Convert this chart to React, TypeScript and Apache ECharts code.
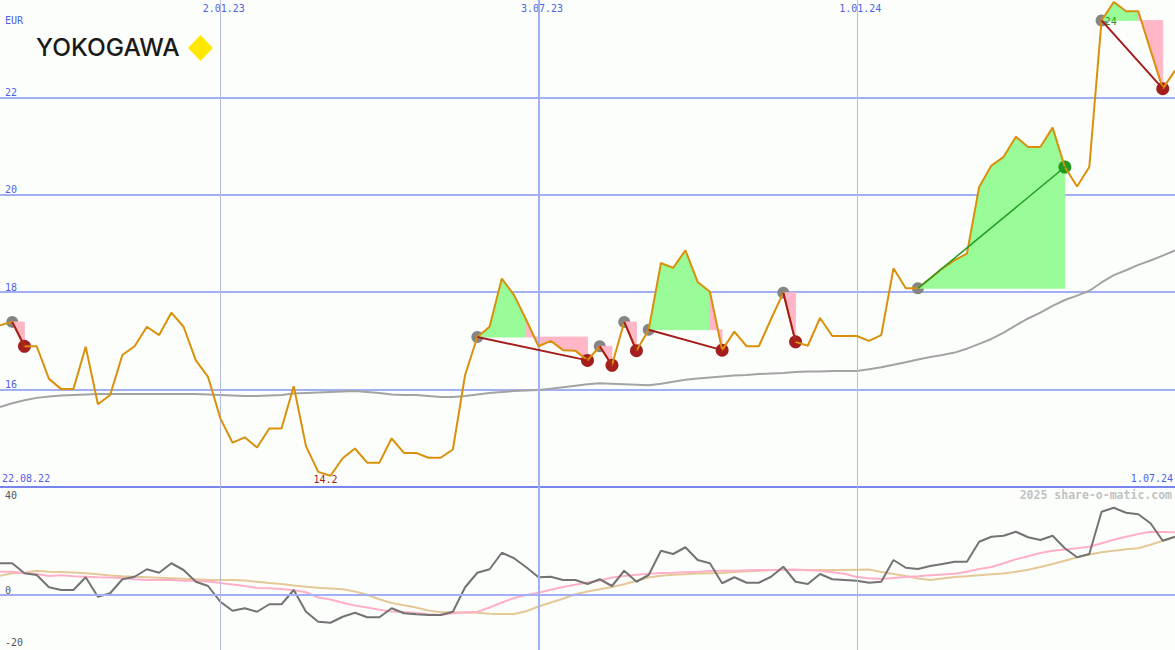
import React, { useEffect, useRef } from 'react';
import * as echarts from 'echarts';

// ---------- categories (weekly closes) ----------
const firstWeek = Date.UTC(2022, 7, 29);
const categories: string[] = [];
for (let i = 0; i < 97; i++) {
  const d = new Date(firstWeek + i * 7 * 86400000);
  categories.push(
    `${d.getUTCDate()}.${String(d.getUTCMonth() + 1).padStart(2, '0')}.${String(d.getUTCFullYear() % 100).padStart(2, '0')}`
  );
}

const gridDates = ['2.01.23', '3.07.23', '1.01.24'];
const midYearDates = ['3.07.23'];
const rangeLabels = ['22.08.22', '1.07.24'];
const priceTickLabels = [16, 18, 20, 22];
const lowerTickLabels = [40, 0, -20];

// ---------- price (EUR) ----------
const price = [
  17.32, 17.39, 16.89, 16.89, 16.22, 16.01, 16.01, 16.88, 15.70, 15.89,
  16.71, 16.89, 17.29, 17.12, 17.58, 17.29, 16.60, 16.26, 15.41, 14.91,
  15.02, 14.81, 15.20, 15.20, 16.07, 14.84, 14.31, 14.23, 14.59, 14.79,
  14.50, 14.50, 15.00, 14.70, 14.70, 14.60, 14.60, 14.77, 16.30, 17.08,
  17.29, 18.28, 17.94, 17.43, 16.89, 17.00, 16.81, 16.80, 16.60, 16.89,
  16.50, 17.39, 16.80, 17.23, 18.60, 18.50, 18.86, 18.21, 18.01, 16.81,
  17.19, 16.89, 16.89, 17.45, 17.99, 16.98, 16.90, 17.47, 17.10, 17.10,
  17.10, 17.00, 17.12, 18.49, 18.08, 18.08, 18.28, 18.49, 18.66, 18.79,
  20.16, 20.60, 20.78, 21.19, 20.98, 20.98, 21.38, 20.57, 20.17, 20.57,
  23.58, 23.96, 23.77, 23.77, 22.97, 22.18, 22.55,
];

// long moving average
const movingAvg = [
  15.64, 15.72, 15.78, 15.83, 15.86, 15.88, 15.89, 15.90, 15.91, 15.91,
  15.91, 15.91, 15.91, 15.91, 15.91, 15.91, 15.91, 15.90, 15.89, 15.88,
  15.87, 15.87, 15.88, 15.89, 15.92, 15.93, 15.94, 15.95, 15.96, 15.97,
  15.95, 15.93, 15.90, 15.89, 15.89, 15.87, 15.85, 15.85, 15.87, 15.90,
  15.93, 15.95, 15.97, 15.98, 15.99, 16.02, 16.05, 16.08, 16.11, 16.13,
  16.12, 16.11, 16.10, 16.09, 16.12, 16.16, 16.20, 16.23, 16.25, 16.27,
  16.29, 16.30, 16.32, 16.33, 16.34, 16.36, 16.37, 16.37, 16.38, 16.38,
  16.38, 16.42, 16.46, 16.51, 16.56, 16.62, 16.67, 16.71, 16.76, 16.84,
  16.94, 17.04, 17.17, 17.32, 17.46, 17.58, 17.72, 17.84, 17.93, 18.03,
  18.20, 18.35, 18.45, 18.56, 18.65, 18.75, 18.86,
];

// trade signals (week indices)
const tradeEntries = [1, 39, 49, 51, 53, 64, 75, 90];
const tradeExits = [2, 48, 50, 52, 59, 65, 87, 95];

// ---------- lower indicator panel ----------
const oscillator = [
  12.7, 12.7, 8.7, 8.0, 3.1, 2.0, 2.0, 7.1, -0.7, 0.7,
  6.3, 7.3, 10.3, 8.9, 12.7, 10.0, 5.3, 3.6, -2.7, -6.3,
  -5.3, -6.7, -3.7, -3.7, 2.0, -6.7, -10.7, -11.1, -8.7, -7.1,
  -8.9, -8.9, -5.3, -7.3, -7.7, -8.0, -8.0, -6.7, 3.1, 8.9,
  10.3, 16.9, 14.7, 11.1, 7.1, 7.3, 6.0, 6.0, 4.4, 6.3,
  3.6, 9.7, 5.3, 8.0, 17.7, 16.4, 19.1, 14.0, 12.7, 4.7,
  7.1, 4.9, 4.9, 7.3, 11.3, 5.3, 4.4, 8.4, 6.3, 6.0,
  5.7, 4.9, 5.3, 14.0, 10.9, 10.4, 11.6, 12.4, 13.3, 13.3,
  21.3, 23.3, 23.7, 25.3, 23.1, 22.0, 23.7, 18.7, 15.1, 16.4,
  33.3, 34.9, 32.9, 32.3, 28.7, 21.7, 23.3,
];

const pinkSignal = [
  9.3, 9.3, 8.7, 8.4, 7.6, 7.9, 7.5, 7.3, 7.1, 7.0,
  6.8, 6.3, 6.0, 6.0, 6.0, 5.7, 5.7, 5.4, 4.8, 4.2,
  3.6, 2.8, 2.7, 2.4, 1.9, 1.1, -1.0, -1.8, -3.1, -4.2,
  -5.0, -5.9, -6.6, -6.8, -7.2, -7.7, -8.0, -7.3, -7.0, -6.7,
  -5.0, -3.0, -1.2, 0.0, 0.9, 2.1, 3.2, 4.1, 5.0, 5.8,
  7.0, 7.6, 8.1, 8.5, 8.8, 8.9, 9.1, 9.3, 9.6, 9.7,
  9.7, 9.9, 10.0, 10.0, 10.1, 10.2, 9.9, 9.7, 9.1, 8.5,
  7.2, 6.7, 6.4, 6.8, 7.2, 7.5, 7.9, 8.2, 8.5, 9.3,
  10.4, 11.2, 12.7, 14.3, 15.5, 16.8, 17.7, 18.2, 18.7, 19.3,
  20.7, 22.1, 23.3, 24.4, 25.3, 25.2, 25.1,
];

const tanSignal = [
  7.7, 8.7, 8.9, 9.7, 9.3, 9.2, 9.0, 8.7, 8.3, 7.8,
  7.5, 7.3, 7.1, 6.9, 6.7, 6.5, 6.3, 6.0, 6.0, 6.0,
  5.8, 5.3, 4.8, 4.4, 3.8, 3.3, 2.9, 2.6, 2.3, 1.4,
  0.1, -1.7, -3.2, -4.1, -5.0, -6.2, -6.9, -6.9, -7.0, -7.1,
  -7.5, -7.6, -7.6, -6.5, -4.6, -3.0, -1.5, 0.3, 1.4, 2.3,
  3.2, 4.3, 5.7, 7.0, 7.7, 8.1, 8.3, 8.6, 8.7, 8.8,
  9.2, 9.5, 9.7, 9.9, 10.0, 10.0, 10.0, 10.0, 10.0, 10.0,
  10.1, 10.2, 9.2, 8.4, 7.6, 6.6, 6.0, 6.6, 7.2, 7.5,
  7.9, 8.3, 8.6, 9.3, 10.1, 11.2, 12.4, 13.7, 15.1, 16.2,
  17.1, 17.7, 18.3, 18.7, 20.1, 21.7, 23.1,
];

// ---------- styling ----------
const MONO = '"DejaVu Sans Mono", monospace';
const BLUE_TEXT = '#4f5fe8';
const GRID_BLUE = '#a3aff3';
const GRID_DARK = '#7885ee';
const YEAR_LINE = '#b6bbe0';
const GAIN_FILL = '#98fb98';
const LOSS_FILL = '#ffb6c6';
const LOWER_TEXT = '#555555';

export default function App() {
  const ref = useRef<HTMLDivElement>(null);

  useEffect(() => {
    if (!ref.current) return;
    const chart = echarts.init(ref.current, undefined, { renderer: 'svg' });

    // derived trade geometry
    const fillData: number[][] = [];
    const tradeLines: number[][] = [];
    const entryPoints: number[][] = [];
    const exitPoints: any[] = [];
    tradeEntries.forEach((en, t) => {
      const ex = tradeExits[t];
      const ref0 = price[en];
      for (let k = en; k < ex; k++) {
        fillData.push([k, ref0, price[k], price[k + 1], price[k + 1] >= ref0 ? 1 : 0]);
      }
      const gain = price[ex] >= ref0 ? 1 : 0;
      tradeLines.push([en, ref0, ex, price[ex], gain]);
      entryPoints.push([en, ref0]);
      exitPoints.push({ value: [ex, price[ex]], itemStyle: { color: gain ? '#229922' : '#a51e1e', opacity: 1 } });
    });

    const fmtExtreme = (p: any) => String(Number(Number(p.value).toFixed(1)));

    const option: any = {
      animation: false,
      backgroundColor: '#fcfefc',
      grid: [
        { left: 0, right: 0, top: 0, height: 487 },
        { left: 0, right: 0, top: 495, height: 150 },
        { left: 0, right: 0, top: 0, height: 650 },
      ],
      xAxis: [
        {
          gridIndex: 0,
          type: 'category',
          data: categories,
          boundaryGap: false,
          position: 'top',
          axisLine: { show: false },
          axisTick: { show: false },
          splitLine: { show: false },
          axisLabel: {
            inside: true,
            margin: 3,
            interval: (idx: number) => gridDates.includes(categories[idx]),
            color: BLUE_TEXT,
            fontFamily: MONO,
            fontSize: 10,
            padding: [0, 0, 0, 7],
          },
        },
        { gridIndex: 1, type: 'category', data: categories, boundaryGap: false, show: false },
        { gridIndex: 2, type: 'category', data: categories, boundaryGap: false, show: false },
      ],
      yAxis: [
        {
          gridIndex: 0,
          type: 'value',
          min: 14,
          max: 24,
          interval: 2,
          axisLine: { show: false },
          axisTick: { show: false },
          splitLine: {
            show: true,
            lineStyle: {
              width: 2,
              color: [GRID_DARK, GRID_BLUE, GRID_BLUE, GRID_BLUE, GRID_BLUE, 'rgba(0,0,0,0)'],
            },
          },
          axisLabel: {
            inside: true,
            margin: 5,
            verticalAlign: 'bottom',
            formatter: (v: number) => (priceTickLabels.includes(v) ? String(v) : ''),
            color: BLUE_TEXT,
            fontFamily: MONO,
            fontSize: 10,
          },
        },
        {
          gridIndex: 1,
          type: 'value',
          min: -20,
          max: 40,
          interval: 20,
          axisLine: { show: false },
          axisTick: { show: false },
          splitLine: { show: false },
          axisLabel: {
            inside: true,
            margin: 5,
            showMinLabel: true,
            showMaxLabel: true,
            formatter: (v: number) =>
              lowerTickLabels.includes(v) ? (v === 0 ? `{z|${v}}` : v < 0 ? `{n|${v}}` : `{p|${v}}`) : '',
            rich: {
              z: { color: LOWER_TEXT, fontFamily: MONO, fontSize: 10, padding: [0, 0, 10, 0] },
              n: { color: LOWER_TEXT, fontFamily: MONO, fontSize: 10, padding: [0, 0, 5, 0] },
              p: { color: LOWER_TEXT, fontFamily: MONO, fontSize: 10 },
            },
            color: LOWER_TEXT,
            fontFamily: MONO,
            fontSize: 10,
          },
        },
        { gridIndex: 2, type: 'value', min: 0, max: 1, show: false },
      ],
      graphic: [
        {
          type: 'text',
          left: 5,
          top: 15,
          style: { text: 'EUR', fill: BLUE_TEXT, font: `10px ${MONO}` },
        },
        {
          type: 'text',
          left: 36,
          top: 34,
          style: { text: 'YOKOGAWA', fill: '#1a1a1a', font: `500 24.5px Inter, "Liberation Sans", sans-serif` },
        },
        {
          type: 'polygon',
          shape: { points: [[200.5, 35], [213, 48], [200.5, 61], [188, 48]] },
          style: { fill: '#ffe800' },
        },
        {
          type: 'text',
          left: 2,
          top: 473,
          style: { text: rangeLabels[0], fill: BLUE_TEXT, font: `10px ${MONO}` },
        },
        {
          type: 'text',
          right: 2,
          top: 473,
          style: { text: rangeLabels[1], fill: BLUE_TEXT, font: `10px ${MONO}` },
        },
        {
          type: 'text',
          right: 3,
          top: 489,
          style: { text: '2025 share-o-matic.com', fill: '#c2c2c2', font: `bold 11.5px ${MONO}` },
        },
      ],
      series: [
        // vertical date lines over both panels
        {
          type: 'line',
          xAxisIndex: 2,
          yAxisIndex: 2,
          data: categories.map(() => null),
          silent: true,
          z: 1,
          markLine: {
            silent: true,
            symbol: 'none',
            label: { show: false },
            data: gridDates.map((d) => ({
              xAxis: d,
              lineStyle: midYearDates.includes(d)
                ? { color: GRID_BLUE, width: 2, type: 'solid' }
                : { color: YEAR_LINE, width: 1, type: 'solid' },
            })),
          },
        },
        // moving average
        {
          type: 'line',
          xAxisIndex: 0,
          yAxisIndex: 0,
          data: movingAvg,
          symbol: 'none',
          lineStyle: { color: '#a3a3a3', width: 2 },
          z: 2,
          silent: true,
        },
        // entry markers
        {
          type: 'scatter',
          xAxisIndex: 0,
          yAxisIndex: 0,
          data: entryPoints,
          symbolSize: 12,
          itemStyle: { color: '#858585', opacity: 1 },
          z: 2,
          silent: true,
        },
        // trade fills
        {
          type: 'custom',
          xAxisIndex: 0,
          yAxisIndex: 0,
          data: fillData,
          encode: { x: 0, y: 1 },
          z: 3,
          silent: true,
          renderItem: (_p: any, api: any) => {
            const i = api.value(0);
            const e = api.value(1);
            const a = api.value(2);
            const b = api.value(3);
            const gain = api.value(4);
            const pts = [api.coord([i, e]), api.coord([i, a]), api.coord([i + 1, b]), api.coord([i + 1, e])];
            const c = gain ? GAIN_FILL : LOSS_FILL;
            return {
              type: 'polygon',
              shape: { points: pts },
              style: { fill: c, stroke: c, lineWidth: 0.8 },
            };
          },
        },
        // exit markers
        {
          type: 'scatter',
          xAxisIndex: 0,
          yAxisIndex: 0,
          data: exitPoints,
          symbolSize: 13,
          z: 4,
          silent: true,
        },
        // price
        {
          type: 'line',
          xAxisIndex: 0,
          yAxisIndex: 0,
          data: price,
          symbol: 'none',
          lineStyle: { color: '#d9900a', width: 2 },
          z: 5,
          silent: true,
          markPoint: {
            symbol: 'circle',
            symbolSize: 0,
            silent: true,
            data: [
              {
                type: 'min',
                label: {
                  show: true,
                  position: 'inside',
                  offset: [-5, 4],
                  formatter: fmtExtreme,
                  color: '#a01c1c',
                  fontFamily: MONO,
                  fontSize: 10,
                },
              },
              {
                type: 'max',
                label: {
                  show: true,
                  position: 'inside',
                  offset: [-3, 20],
                  formatter: fmtExtreme,
                  color: '#229922',
                  fontFamily: MONO,
                  fontSize: 10,
                },
              },
            ],
          },
        },
        // entry-exit connection lines
        {
          type: 'custom',
          xAxisIndex: 0,
          yAxisIndex: 0,
          data: tradeLines,
          encode: { x: 0, y: 1 },
          z: 6,
          silent: true,
          renderItem: (_p: any, api: any) => {
            const s = api.coord([api.value(0), api.value(1)]);
            const t = api.coord([api.value(2), api.value(3)]);
            const gain = api.value(4);
            return {
              type: 'line',
              shape: { x1: s[0], y1: s[1], x2: t[0], y2: t[1] },
              style: { stroke: gain ? '#1f9b1f' : '#a51c1c', lineWidth: gain ? 1.5 : 2 },
            };
          },
        },
        // lower panel zero line + signals
        {
          type: 'line',
          xAxisIndex: 1,
          yAxisIndex: 1,
          data: tanSignal,
          symbol: 'none',
          lineStyle: { color: '#e4c898', width: 2 },
          z: 2,
          silent: true,
          markLine: {
            silent: true,
            symbol: 'none',
            label: { show: false },
            data: [{ yAxis: 0, lineStyle: { color: GRID_BLUE, width: 2, type: 'solid' } }],
          },
        },
        {
          type: 'line',
          xAxisIndex: 1,
          yAxisIndex: 1,
          data: pinkSignal,
          symbol: 'none',
          lineStyle: { color: '#ffb0c8', width: 2 },
          z: 3,
          silent: true,
        },
        {
          type: 'line',
          xAxisIndex: 1,
          yAxisIndex: 1,
          data: oscillator,
          symbol: 'none',
          lineStyle: { color: '#737373', width: 2 },
          z: 4,
          silent: true,
        },
      ],
    };

    chart.setOption(option);
    return () => chart.dispose();
  }, []);

  return (
    <div
      ref={ref}
      style={{ position: 'fixed', left: 0, top: 0, width: 1175, height: 650 }}
    />
  );
}
